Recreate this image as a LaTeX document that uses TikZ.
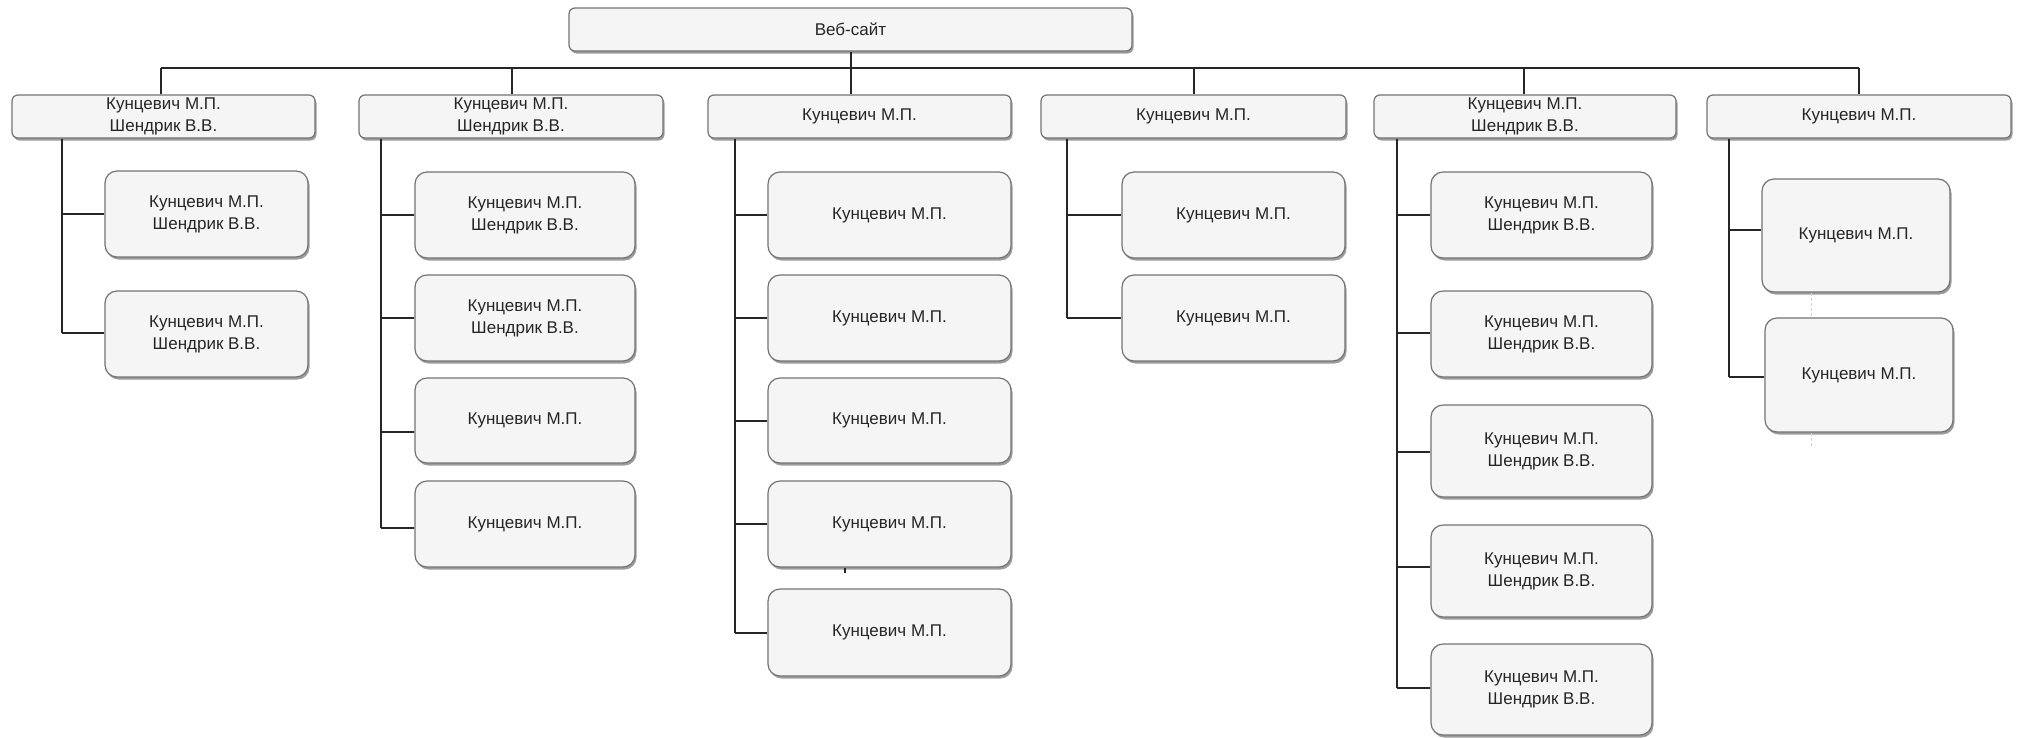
\documentclass[tikz,border=0pt]{standalone}
\usepackage{fontspec}
\setmainfont{Liberation Sans}
\usetikzlibrary{shadows}
\newcommand\kmname{Кунцевич М.П.}
\newcommand\ksname{Кунцевич М.П.\\Шендрик В.В.}
\begin{document}
\begin{tikzpicture}[x=1pt,y=-1pt,
  every node/.style={font=\fontsize{17}{22}\selectfont, text=black!85, align=center, inner sep=0pt},
  boxbase/.style={draw=black!55, line width=1.2pt, fill=black!4,
    drop shadow={shadow xshift=1.5pt, shadow yshift=-2.5pt, opacity=0.55, fill=black!70}},
  topbox/.style={boxbase, rounded corners=6pt, minimum height=43pt},
  kidbox/.style={boxbase, rounded corners=12pt},
  link/.style={line width=1.6pt, draw=black!85},
  faint/.style={line width=0.8pt, draw=black!18, densely dashed}]
\useasboundingbox (0,0) rectangle (2020,737);
\fill[white] (0,0) rectangle (2020,737);

% root and first level
\node[topbox, minimum width=563pt] (root) at (850.5,29.5) {Веб-сайт};
\node[topbox, minimum width=303pt] (A) at (163.5,116.5) {\ksname};
\node[topbox, minimum width=304pt] (B) at (511,116.5) {\ksname};
\node[topbox, minimum width=303pt] (C) at (859.5,116.5) {\kmname};
\node[topbox, minimum width=305pt] (D) at (1193.5,116.5) {\kmname};
\node[topbox, minimum width=302pt] (E) at (1525,116.5) {\ksname};
\node[topbox, minimum width=304pt] (F) at (1859,116.5) {\kmname};

% column A
\node[kidbox, minimum width=203pt, minimum height=86pt] (A1) at (206.5,214) {\ksname};
\node[kidbox, minimum width=203pt, minimum height=86pt] (A2) at (206.5,334) {\ksname};
% column B
\node[kidbox, minimum width=220pt, minimum height=86pt] (B1) at (525,215) {\ksname};
\node[kidbox, minimum width=220pt, minimum height=86pt] (B2) at (525,318) {\ksname};
\node[kidbox, minimum width=220pt, minimum height=85pt] (B3) at (525,420.5) {\kmname};
\node[kidbox, minimum width=220pt, minimum height=86pt] (B4) at (525,524) {\kmname};
% column C
\node[kidbox, minimum width=243pt, minimum height=86pt] (C1) at (889.5,215) {\kmname};
\node[kidbox, minimum width=243pt, minimum height=86pt] (C2) at (889.5,318) {\kmname};
\node[kidbox, minimum width=243pt, minimum height=85pt] (C3) at (889.5,420.5) {\kmname};
\node[kidbox, minimum width=243pt, minimum height=86pt] (C4) at (889.5,524) {\kmname};
\node[kidbox, minimum width=243pt, minimum height=87pt] (C5) at (889.5,632.5) {\kmname};
% column D
\node[kidbox, minimum width=223pt, minimum height=86pt] (D1) at (1233.5,215) {\kmname};
\node[kidbox, minimum width=223pt, minimum height=86pt] (D2) at (1233.5,318) {\kmname};
% column E
\node[kidbox, minimum width=221pt, minimum height=86pt] (E1) at (1541.5,215) {\ksname};
\node[kidbox, minimum width=221pt, minimum height=86pt] (E2) at (1541.5,334) {\ksname};
\node[kidbox, minimum width=221pt, minimum height=92pt] (E3) at (1541.5,451) {\ksname};
\node[kidbox, minimum width=221pt, minimum height=92pt] (E4) at (1541.5,571) {\ksname};
\node[kidbox, minimum width=221pt, minimum height=91pt] (E5) at (1541.5,689.5) {\ksname};
% column F
\node[kidbox, minimum width=188pt, minimum height=113pt] (F1) at (1856,235.5) {\kmname};
\node[kidbox, minimum width=188pt, minimum height=114pt] (F2) at (1859,375) {\kmname};

% bus
\coordinate (dA) at (161,68);
\coordinate (dB) at (512,68);
\coordinate (dC) at (851,68);
\coordinate (dD) at (1194,68);
\coordinate (dE) at (1524,68);
\coordinate (dF) at (1859,68);
\draw[link] (root.south -| dC) -- (dC);
\draw[link] (dA) -- (dF);
\foreach \n in {A,B,C,D,E,F}{
  \draw[link] (d\n) -- (d\n |- \n.north);
}

% branch points
\foreach \c/\k/\x/\y in {A/1/62/214, A/2/62/333,
  B/1/381/215, B/2/381/318, B/3/381/432, B/4/381/528,
  C/1/735/215, C/2/735/318, C/3/735/421, C/4/735/524, C/5/735/633,
  D/1/1067/215, D/2/1067/318,
  E/1/1397/215, E/2/1397/333, E/3/1397/452, E/4/1397/567, E/5/1397/688,
  F/1/1729/230, F/2/1729/377}{
  \coordinate (t\c\k) at (\x,\y);
  \draw[link] (t\c\k) -- (t\c\k -| \c\k.west);
}
\foreach \c/\last in {A/2, B/4, C/5, D/2, E/5, F/2}{
  \draw[link] (\c.south -| t\c1) -- (t\c\last);
}

% faint stray marks
\coordinate (fx) at (1811,0);
\draw[faint] (F1.south -| fx) -- (F2.north -| fx);
\draw[faint] (F2.south -| fx) -- ++(0,13);
\coordinate (cx) at (845,0);
\draw[link] (C4.south -| cx) -- ++(0,5);
\end{tikzpicture}
\end{document}
